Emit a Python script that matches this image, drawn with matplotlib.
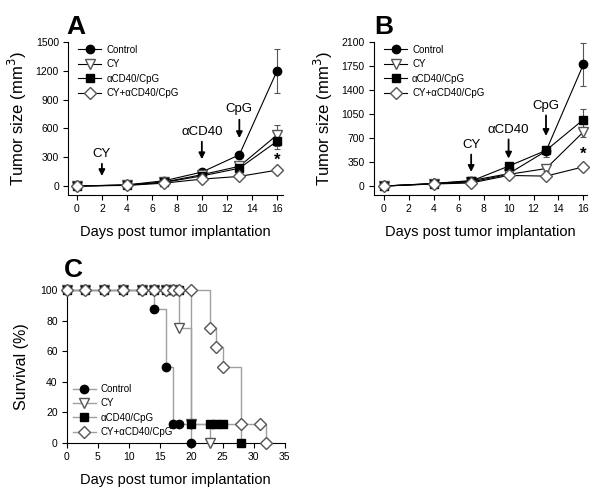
import matplotlib.pyplot as plt

plt.rcParams['font.family'] = ['Liberation Sans', 'DejaVu Sans']

days = [0, 4, 7, 10, 13, 16]
labels = ['Control', 'CY', '\u03b1CD40/CpG', 'CY+\u03b1CD40/CpG']

# panel A
a_control = [0, 12, 55, 145, 325, 1195]
a_cy = [0, 10, 42, 118, 205, 530]
a_cd40 = [0, 9, 38, 105, 185, 465]
a_combo = [0, 6, 30, 72, 100, 165]
a_control_err = [0, 3, 8, 15, 20, 230]
a_cy_err = [0, 3, 6, 12, 35, 110]
a_cd40_err = [0, 3, 6, 12, 25, 80]
a_combo_err = [0, 2, 5, 8, 10, 15]

# panel B
b_control = [0, 38, 80, 180, 510, 1775]
b_cy = [0, 33, 60, 170, 255, 790]
b_cd40 = [0, 36, 72, 290, 520, 970]
b_combo = [0, 30, 45, 155, 145, 280]
b_control_err = [0, 5, 10, 20, 80, 315]
b_cy_err = [0, 5, 8, 15, 40, 70]
b_cd40_err = [0, 5, 8, 20, 50, 160]
b_combo_err = [0, 4, 6, 10, 15, 25]

# panel C survival
c_control_t = [0, 3, 6, 9, 12, 14, 16, 17, 18, 20]
c_control_s = [100, 100, 100, 100, 100, 87.5, 50, 12.5, 12.5, 0]
c_cy_t = [0, 3, 6, 9, 12, 14, 16, 17, 18, 20, 23]
c_cy_s = [100, 100, 100, 100, 100, 100, 100, 100, 75, 12.5, 0]
c_cd40_t = [0, 3, 6, 9, 12, 14, 16, 17, 18, 20, 23, 24, 25, 28]
c_cd40_s = [100, 100, 100, 100, 100, 100, 100, 100, 100, 12.5, 12.5, 12.5, 12.5, 0]
c_combo_t = [0, 3, 6, 9, 12, 14, 16, 17, 18, 20, 23, 24, 25, 28, 31, 32]
c_combo_s = [100, 100, 100, 100, 100, 100, 100, 100, 100, 100, 75, 62.5, 50, 12.5, 12.5, 0]

# treatment arrows: (label, day, text y, arrow start, arrow tip)
a_arrows = [('CY', 2, 330, 260, 75), ('\u03b1CD40', 10, 560, 490, 250), ('CpG', 13, 805, 720, 470)]
b_arrows = [('CY', 7, 595, 500, 165), ('\u03b1CD40', 10, 815, 720, 360), ('CpG', 13, 1165, 1070, 690)]
a_star = 270
b_star = 465

styles = [
    dict(marker='o', mfc='black', mec='black', ms=6),
    dict(marker='v', mfc='white', mec='#555555', ms=6.5),
    dict(marker='s', mfc='black', mec='black', ms=5.5),
    dict(marker='D', mfc='white', mec='#555555', ms=6),
]


def style_axes(ax):
    ax.spines['top'].set_visible(False)
    ax.spines['right'].set_visible(False)
    ax.tick_params(direction='out', length=3.5, width=0.8, labelsize=7.5, pad=3)


def growth_panel(ax, series, errs, arrows, star, ymax, ystep, ybottom, xlims):
    for vals, err, st in zip(series, errs, styles):
        ax.errorbar(days, vals, yerr=err, color='black', ecolor='#555555', lw=0.8,
                    elinewidth=0.8, capsize=2, capthick=0.8, clip_on=False, zorder=3, **st)
    for name, x, ty, y0, y1 in arrows:
        ax.annotate('', xy=(x, y1), xytext=(x, y0),
                    arrowprops=dict(arrowstyle='-|>', color='black', lw=1.3, mutation_scale=9))
        ax.text(x, ty, name, ha='center', va='center', fontsize=9.5)
    ax.text(16, star, '*', ha='center', va='center', fontsize=12, fontweight='bold')
    ax.set_xlim(*xlims)
    ax.set_ylim(ybottom, ymax)
    ax.set_xticks(range(0, 17, 2))
    ax.set_yticks(range(0, ymax + 1, ystep))
    ax.set_ylabel('Tumor size (mm$^3$)', fontsize=12, labelpad=5)
    ax.set_xlabel('Days post tumor implantation', fontsize=10.5, labelpad=8)
    handles = [plt.Line2D([], [], color='black', lw=0.8, **st) for st in styles]
    ax.legend(handles, labels, loc='upper left', frameon=False, fontsize=7, handlelength=2.4,
              handletextpad=0.5, labelspacing=0.45, borderaxespad=0.2,
              bbox_to_anchor=(0.02, 1.02))
    style_axes(ax)


fig = plt.figure(figsize=(6.01, 4.95), dpi=100)

axA = fig.add_axes([0.113, 0.606, 0.358, 0.309])
growth_panel(axA, [a_control, a_cy, a_cd40, a_combo],
             [a_control_err, a_cy_err, a_cd40_err, a_combo_err],
             a_arrows, a_star, 1500, 300, -94, (-0.72, 16.5))
fig.text(0.111, 0.945, 'A', fontsize=19, fontweight='bold', va='center')

axB = fig.add_axes([0.622, 0.606, 0.355, 0.309])
growth_panel(axB, [b_control, b_cy, b_cd40, b_combo],
             [b_control_err, b_cy_err, b_cd40_err, b_combo_err],
             b_arrows, b_star, 2100, 350, -131, (-0.8, 16.3))
fig.text(0.622, 0.945, 'B', fontsize=19, fontweight='bold', va='center')

axC = fig.add_axes([0.111, 0.105, 0.363, 0.309])
for t, s, st in zip([c_control_t, c_cy_t, c_cd40_t, c_combo_t],
                    [c_control_s, c_cy_s, c_cd40_s, c_combo_s], styles):
    axC.plot(t, s, drawstyle='steps-post', color='#a0a0a0', lw=1.0, clip_on=False, zorder=2)
    axC.plot(t, s, linestyle='none', clip_on=False, zorder=3, **st)
handles = [plt.Line2D([], [], color='#a0a0a0', lw=1.0, **st) for st in styles]
axC.legend(handles, labels, loc='lower left', frameon=False, fontsize=7, handlelength=2.4,
           handletextpad=0.5, labelspacing=0.45, borderaxespad=0.2,
           bbox_to_anchor=(0.0, 0.0))
axC.set_xlim(0, 35)
axC.set_ylim(0, 100)
axC.set_xticks(range(0, 36, 5))
axC.set_yticks(range(0, 101, 20))
axC.set_ylabel('Survival (%)', fontsize=11.5, labelpad=8)
axC.set_xlabel('Days post tumor implantation', fontsize=10.5, labelpad=8)
style_axes(axC)
fig.text(0.106, 0.455, 'C', fontsize=19, fontweight='bold', va='center')

fig.savefig('out.png', dpi=100)
